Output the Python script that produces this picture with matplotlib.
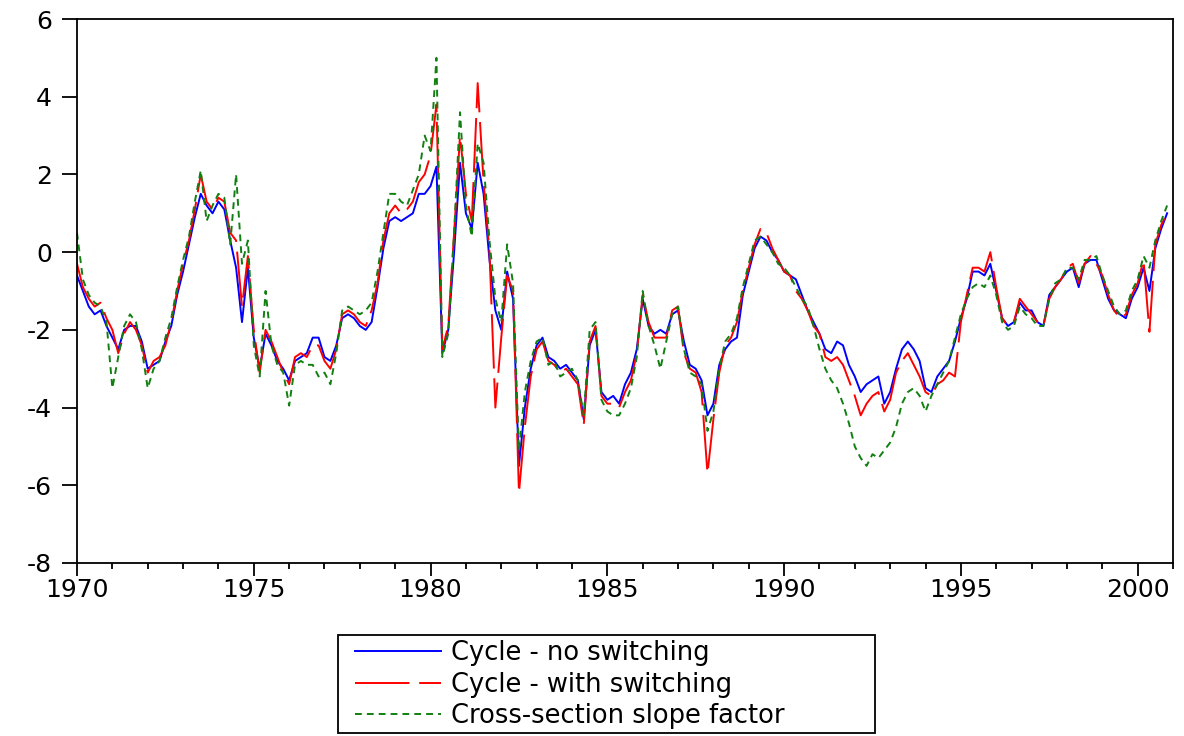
import numpy as np
import matplotlib
matplotlib.use("Agg")
import matplotlib.pyplot as plt
from matplotlib.patches import Rectangle
from matplotlib.ticker import MultipleLocator

# Bi-monthly observations starting January 1970 (Jan, Mar, May, Jul, Sep, Nov)
start_year = 1970
periods_per_year = 6

no_switching = [
    -0.6, -1.0, -1.4, -1.6, -1.5, -1.9,   # 1970
    -2.2, -2.5, -2.0, -1.9, -1.9, -2.3,   # 1971
    -3.0, -2.9, -2.8, -2.3, -1.9, -1.1,   # 1972
    -0.5, 0.2, 0.9, 1.5, 1.2, 1.0,        # 1973
    1.3, 1.1, 0.3, -0.4, -1.8, -0.4,      # 1974
    -2.2, -3.0, -2.1, -2.4, -2.8, -3.0,   # 1975
    -3.3, -2.8, -2.7, -2.6, -2.2, -2.2,   # 1976
    -2.7, -2.8, -2.4, -1.7, -1.6, -1.7,   # 1977
    -1.9, -2.0, -1.8, -0.9, 0.1, 0.8,     # 1978
    0.9, 0.8, 0.9, 1.0, 1.5, 1.5,         # 1979
    1.7, 2.2, -2.6, -2.0, 0.0, 2.3,       # 1980
    1.0, 0.6, 2.3, 1.5, -0.2, -1.5,       # 1981
    -2.0, -0.5, -1.2, -5.5, -4.0, -3.0,   # 1982
    -2.4, -2.2, -2.7, -2.8, -3.0, -2.9,   # 1983
    -3.1, -3.3, -4.3, -2.4, -2.0, -3.6,   # 1984
    -3.8, -3.7, -3.9, -3.4, -3.1, -2.5,   # 1985
    -1.2, -1.9, -2.1, -2.0, -2.1, -1.6,   # 1986
    -1.5, -2.3, -2.9, -3.0, -3.3, -4.2,   # 1987
    -3.9, -2.9, -2.5, -2.3, -2.2, -1.1,   # 1988
    -0.5, 0.1, 0.4, 0.3, 0.0, -0.2,       # 1989
    -0.5, -0.6, -0.7, -1.1, -1.5, -1.8,   # 1990
    -2.1, -2.5, -2.6, -2.3, -2.4, -2.9,   # 1991
    -3.2, -3.6, -3.4, -3.3, -3.2, -3.9,   # 1992
    -3.6, -3.0, -2.5, -2.3, -2.5, -2.8,   # 1993
    -3.5, -3.6, -3.2, -3.0, -2.8, -2.3,   # 1994
    -1.7, -1.2, -0.5, -0.5, -0.6, -0.3,   # 1995
    -1.0, -1.7, -1.9, -1.8, -1.3, -1.5,   # 1996
    -1.5, -1.8, -1.9, -1.1, -0.9, -0.7,   # 1997
    -0.5, -0.4, -0.9, -0.3, -0.2, -0.2,   # 1998
    -0.7, -1.2, -1.5, -1.6, -1.7, -1.2,   # 1999
    -0.9, -0.4, -1.0, 0.1, 0.6, 1.0,      # 2000
]

with_switching = [
    -0.3, -0.9, -1.2, -1.4, -1.3, -1.7,   # 1970
    -2.0, -2.6, -2.1, -1.8, -2.0, -2.4,   # 1971
    -3.1, -2.8, -2.7, -2.4, -1.8, -1.0,   # 1972
    -0.3, 0.3, 1.1, 2.0, 1.3, 1.1,        # 1973
    1.4, 1.3, 0.5, 0.3, -1.4, -0.1,       # 1974
    -2.0, -3.1, -2.0, -2.3, -2.7, -3.1,   # 1975
    -3.4, -2.7, -2.6, -2.7, -2.4, -2.4,   # 1976
    -2.8, -3.0, -2.5, -1.6, -1.5, -1.6,   # 1977
    -1.8, -1.9, -1.5, -0.8, 0.3, 1.0,     # 1978
    1.2, 1.0, 1.1, 1.3, 1.8, 2.0,         # 1979
    2.5, 3.8, -2.5, -1.9, 0.5, 3.0,       # 1980
    1.5, 0.8, 4.35, 1.8, 0.0, -4.0,       # 1981
    -2.2, -0.6, -1.0, -6.2, -4.5, -3.2,   # 1982
    -2.5, -2.3, -2.8, -2.9, -3.1, -3.0,   # 1983
    -3.2, -3.4, -4.45, -2.3, -1.9, -3.7,  # 1984
    -3.9, -3.9, -4.0, -3.6, -3.3, -2.6,   # 1985
    -1.1, -1.8, -2.2, -2.2, -2.2, -1.5,   # 1986
    -1.4, -2.6, -3.0, -3.1, -3.6, -5.7,   # 1987
    -4.3, -3.1, -2.4, -2.2, -1.8, -1.0,   # 1988
    -0.4, 0.2, 0.6, 0.5, 0.1, -0.2,       # 1989
    -0.5, -0.6, -1.0, -1.2, -1.5, -1.9,   # 1990
    -2.1, -2.7, -2.8, -2.7, -2.9, -3.3,   # 1991
    -3.7, -4.2, -3.9, -3.7, -3.6, -4.1,   # 1992
    -3.8, -3.1, -2.8, -2.6, -2.9, -3.2,   # 1993
    -3.6, -3.7, -3.4, -3.3, -3.1, -3.2,   # 1994
    -1.8, -1.1, -0.4, -0.4, -0.5, 0.0,    # 1995
    -0.9, -1.7, -1.9, -1.8, -1.2, -1.4,   # 1996
    -1.6, -1.8, -1.9, -1.2, -0.9, -0.7,   # 1997
    -0.4, -0.3, -0.8, -0.3, -0.1, -0.3,   # 1998
    -0.6, -1.1, -1.5, -1.7, -1.6, -1.1,   # 1999
    -0.8, -0.2, -2.05, 0.2, 0.7, 1.0,     # 2000
]

slope_factor = [
    0.5, -0.7, -1.1, -1.3, -1.4, -1.8,    # 1970
    -3.5, -2.7, -1.9, -1.6, -1.8, -2.5,   # 1971
    -3.5, -3.0, -2.8, -2.2, -1.7, -0.9,   # 1972
    -0.2, 0.4, 1.3, 2.1, 0.8, 1.2,        # 1973
    1.5, 1.4, 0.2, 2.0, -0.3, 0.3,        # 1974
    -2.4, -3.2, -1.0, -2.4, -2.9, -3.1,   # 1975
    -3.95, -2.9, -2.8, -2.9, -2.9, -3.2,  # 1976
    -3.1, -3.4, -2.6, -1.5, -1.4, -1.5,   # 1977
    -1.6, -1.5, -1.3, -0.5, 0.5, 1.5,     # 1978
    1.5, 1.3, 1.2, 1.6, 2.0, 3.0,         # 1979
    2.6, 5.0, -2.7, -2.1, 0.5, 3.6,       # 1980
    1.2, 0.4, 2.8, 2.3, 0.3, -1.2,        # 1981
    -1.8, 0.2, -0.8, -5.1, -3.6, -2.8,    # 1982
    -2.3, -2.2, -2.9, -2.8, -3.2, -3.1,   # 1983
    -3.0, -3.3, -4.2, -2.0, -1.8, -3.8,   # 1984
    -4.1, -4.2, -4.2, -3.9, -3.5, -2.7,   # 1985
    -1.0, -1.9, -2.4, -3.0, -2.3, -1.6,   # 1986
    -1.4, -2.5, -3.1, -3.2, -3.4, -4.6,   # 1987
    -4.1, -3.0, -2.3, -2.1, -1.7, -0.9,   # 1988
    -0.3, 0.3, 0.4, 0.2, 0.0, -0.3,       # 1989
    -0.4, -0.6, -0.9, -1.2, -1.4, -1.9,   # 1990
    -2.5, -3.0, -3.3, -3.5, -3.9, -4.4,   # 1991
    -5.0, -5.3, -5.5, -5.2, -5.3, -5.1,   # 1992
    -4.9, -4.5, -3.9, -3.6, -3.5, -3.7,   # 1993
    -4.1, -3.7, -3.4, -3.1, -2.8, -2.2,   # 1994
    -1.6, -1.2, -0.9, -0.8, -0.9, -0.6,   # 1995
    -1.1, -1.8, -2.0, -1.9, -1.4, -1.6,   # 1996
    -1.7, -1.9, -1.9, -1.2, -0.8, -0.7,   # 1997
    -0.4, -0.4, -0.7, -0.2, -0.2, -0.1,   # 1998
    -0.6, -1.0, -1.4, -1.6, -1.5, -1.0,   # 1999
    -0.7, -0.1, -0.4, 0.3, 0.8, 1.2,      # 2000
]

series_labels = ["Cycle - no switching",
                 "Cycle - with switching",
                 "Cross-section slope factor"]
year_ticks = [1970, 1975, 1980, 1985, 1990, 1995, 2000]
value_ticks = [-8, -6, -4, -2, 0, 2, 4, 6]

dates = start_year + np.arange(len(no_switching)) / periods_per_year

W, H = 1184, 736
fig = plt.figure(figsize=(W / 100, H / 100), dpi=100)
fig.patch.set_facecolor("white")

# plot frame in pixel terms
left, right, top, bottom = 77, 1173, 19, 563
ax = fig.add_axes([left / W, 1 - bottom / H, (right - left) / W, (bottom - top) / H])

l1, = ax.plot(dates, no_switching, color="#0000ff", lw=1.4)
l2, = ax.plot(dates, with_switching, color="#ff0000", lw=1.4, dashes=(28, 5))
l3, = ax.plot(dates, slope_factor, color="#118011", lw=1.4, dashes=(3.5, 2.6))

ax.set_xlim(1970, 2001)
ax.set_ylim(-8, 6)
ax.set_xticks(year_ticks)
ax.set_xticklabels([str(y) for y in year_ticks])
ax.xaxis.set_minor_locator(MultipleLocator(1))
ax.set_yticks(value_ticks)
ax.set_yticklabels([str(v) for v in value_ticks])

for s in ax.spines.values():
    s.set_linewidth(1.3)
    s.set_color("black")

ax.tick_params(axis="x", which="major", direction="out", length=9.5, width=1.3,
               pad=1, labelsize=18, colors="black")
ax.tick_params(axis="x", which="minor", direction="out", length=4.5, width=1.3)
ax.tick_params(axis="y", which="major", direction="out", length=11, width=1.3,
               pad=7, labelsize=18, colors="black")
ax.tick_params(top=False, right=False, which="both")

for lab in ax.get_xticklabels() + ax.get_yticklabels():
    lab.set_fontfamily("DejaVu Sans")

# legend entries placed inside a hand-drawn box
box_l, box_r, box_t, box_b = 338, 875, 635, 733
leg = fig.legend([l1, l2, l3], series_labels,
                 loc="upper left",
                 bbox_to_anchor=(355 / W, 1 - 640 / H),
                 borderaxespad=0, borderpad=0,
                 handlelength=3.35, handletextpad=0.4,
                 labelspacing=0.22, frameon=False,
                 prop={"family": "DejaVu Sans", "size": 18.5})
fig.add_artist(Rectangle((box_l / W, 1 - box_b / H),
                         (box_r - box_l) / W, (box_b - box_t) / H,
                         transform=fig.transFigure, fill=False,
                         edgecolor="black", linewidth=1.3))

fig.savefig("out.png", dpi=100, facecolor="white")
